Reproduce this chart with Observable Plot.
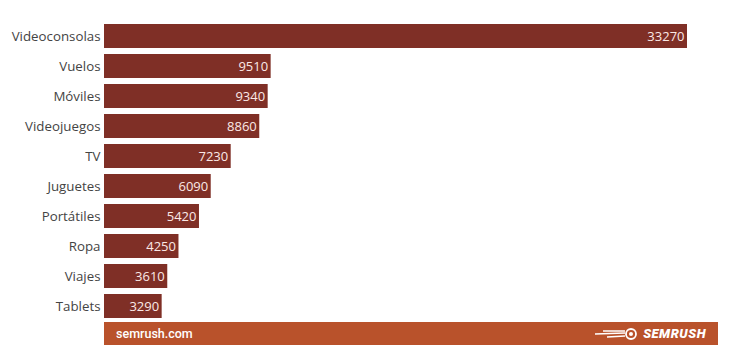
<!DOCTYPE html>
<html>
<head>
<meta charset="utf-8">
<script src="https://cdn.jsdelivr.net/npm/d3@7"></script>
<script src="https://cdn.jsdelivr.net/npm/@observablehq/plot@0.6"></script>
<style>
  html, body { margin: 0; padding: 0; background: #fff; }
  #chart { width: 740px; }
  #chart svg { display: block; }
  .footer {
    margin-left: 104px; margin-top: 2px; width: 614px; height: 23px;
    background: #b9522b; color: #fff; font-family: Roboto, "Open Sans", sans-serif;
    font-size: 12.5px; font-weight: 500; display: flex; align-items: center;
    justify-content: space-between; box-sizing: border-box; padding: 0 12px 0 12px;
  }
  .brand { font-style: italic; font-weight: 900; letter-spacing: 0.5px; font-size: 13px; display: flex; align-items: center; gap: 4px; }
</style>
</head>
<body>
<div id="chart"></div>
<div class="footer" id="footer"><span id="src"></span><span class="brand" id="brand"></span></div>
<script>
const categories = ["Videoconsolas", "Vuelos", "Móviles", "Videojuegos", "TV", "Juguetes", "Portátiles", "Ropa", "Viajes", "Tablets"];
const values = [33270, 9510, 9340, 8860, 7230, 6090, 5420, 4250, 3610, 3290];
const footerSource = "semrush.com";
const footerBrand = "SEMRUSH";

const data = categories.map((c, i) => ({category: c, value: values[i]}));

const plot = Plot.plot({
  width: 740,
  height: 320,
  marginLeft: 104,
  marginRight: 53,
  marginTop: 22.5,
  marginBottom: 0.5,
  style: {fontFamily: "'Open Sans', sans-serif", fontSize: "13px", color: "#444", background: "transparent"},
  x: {domain: [0, 33270], axis: null},
  y: {domain: categories, paddingInner: 0.2, paddingOuter: 0.05, label: null, axis: null},
  marks: [
    Plot.barX(data, {x: "value", y: "category", fill: "#7f2f26"}),
    Plot.text(data, {x: "value", y: "category", text: d => String(d.value), textAnchor: "end", dx: -3, fill: "#fbe9e6", fontSize: 13}),
    Plot.axisY({tickSize: 0, tickPadding: 4, label: null, fontSize: 13.3, fill: "#444"})
  ]
});
document.getElementById("chart").appendChild(plot);
document.getElementById("src").textContent = footerSource;
const brand = document.getElementById("brand");
brand.innerHTML = '<svg width="44" height="12" viewBox="0 0 44 12"><path d="M0 6 L30 5 M8 3 L30 3 M12 9 L30 8" stroke="#fff" stroke-width="1.3" fill="none"/><circle cx="36" cy="6" r="5" fill="none" stroke="#fff" stroke-width="1.8"/><circle cx="36" cy="6" r="2" fill="#fff"/></svg>';
const t = document.createElement("span");
t.textContent = footerBrand;
brand.appendChild(t);
</script>
</body>
</html>
